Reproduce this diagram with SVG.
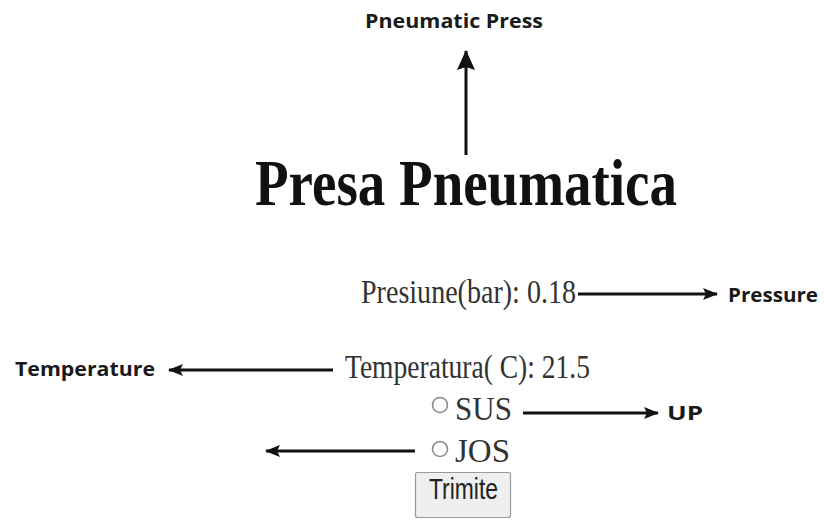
<svg xmlns="http://www.w3.org/2000/svg" width="824" height="520" viewBox="0 0 824 520">
<style>
.lbl{font-family:"Open Sans","Liberation Sans",sans-serif;font-weight:700;font-size:20px;fill:#1a1a1a}
.ser{font-family:"Liberation Serif","Times New Roman",serif;font-size:33px;fill:#333}
.title{font-family:"Liberation Serif","Times New Roman",serif;font-weight:700;font-size:65px;fill:#111}
.conn{stroke:#111;stroke-width:3;fill:none}
.radio{fill:#fff;stroke:#8a8a8a;stroke-width:1.6}
</style>
<defs>
<marker id="ah" viewBox="0 0 15 12" refX="14" refY="6" markerWidth="15" markerHeight="12" markerUnits="userSpaceOnUse" orient="auto">
<path d="M0,0 L15,6 L0,12 L3,6 Z" fill="#111"/>
</marker>
<marker id="ahv" viewBox="0 0 20 18" refX="19" refY="9" markerWidth="20" markerHeight="18" markerUnits="userSpaceOnUse" orient="auto">
<path d="M0,0 L20,9 L0,18 L3,9 Z" fill="#111"/>
</marker>
</defs>
<rect width="824" height="520" fill="#fff"/>
<g id="pneumatic-press"><text class="lbl" x="365" y="28" textLength="178" lengthAdjust="spacingAndGlyphs">Pneumatic Press</text></g>
<g id="title"><text class="title" x="255" y="205" textLength="422" lengthAdjust="spacingAndGlyphs">Presa Pneumatica</text></g>
<g id="presiune"><text class="ser" x="361" y="303" textLength="215" lengthAdjust="spacingAndGlyphs">Presiune(bar): 0.18</text></g>
<g id="pressure"><text class="lbl" x="728" y="302" textLength="90" lengthAdjust="spacingAndGlyphs">Pressure</text></g>
<g id="temperatura"><text class="ser" x="345" y="378" textLength="245" lengthAdjust="spacingAndGlyphs">Temperatura( C): 21.5</text></g>
<g id="temperature"><text class="lbl" x="15" y="376" textLength="140" lengthAdjust="spacingAndGlyphs">Temperature</text></g>
<g id="sus"><circle class="radio" cx="440" cy="405" r="7.5"/><text class="ser" x="455" y="420" textLength="57" lengthAdjust="spacingAndGlyphs">SUS</text></g>
<g id="up"><text class="lbl" x="667" y="420" textLength="36" lengthAdjust="spacingAndGlyphs">UP</text></g>
<g id="jos"><circle class="radio" cx="440" cy="449" r="7.5"/><text class="ser" x="455" y="462" textLength="55" lengthAdjust="spacingAndGlyphs">JOS</text></g>
<g id="trimite"><rect x="415.5" y="472.5" width="95" height="45" rx="2" fill="#efefef" stroke="#9a9a9a" stroke-width="1.2"/><text x="429" y="499" font-family="Liberation Sans,Arial,sans-serif" font-size="29" fill="#222" textLength="69" lengthAdjust="spacingAndGlyphs">Trimite</text></g>
<g id="connectors">
<line class="conn" x1="466" y1="155" x2="466" y2="51" stroke-width="3.5" marker-end="url(#ahv)"/>
<line class="conn" x1="578" y1="294" x2="717" y2="294" marker-end="url(#ah)"/>
<line class="conn" x1="333" y1="370" x2="169" y2="370" marker-end="url(#ah)"/>
<line class="conn" x1="523" y1="413" x2="658" y2="413" marker-end="url(#ah)"/>
<line class="conn" x1="415" y1="451" x2="266" y2="451" marker-end="url(#ah)"/>
</g>
</svg>
